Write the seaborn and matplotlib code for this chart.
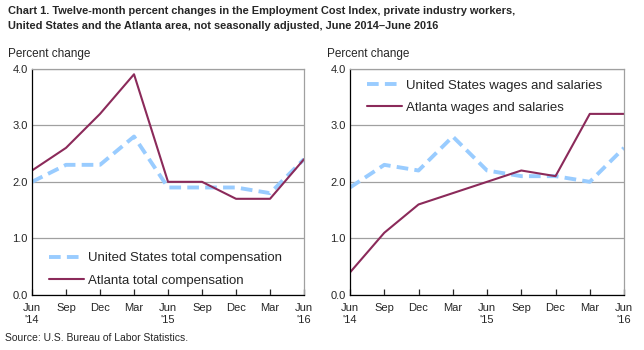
import pandas as pd
import matplotlib.pyplot as plt
import seaborn as sns

# Quarterly months, June 2014 - June 2016
months = ["Jun\n'14", "Sep", "Dec", "Mar", "Jun\n'15", "Sep", "Dec", "Mar", "Jun\n'16"]

us_total = [2.0, 2.3, 2.3, 2.8, 1.9, 1.9, 1.9, 1.8, 2.4]
atl_total = [2.2, 2.6, 3.2, 3.9, 2.0, 2.0, 1.7, 1.7, 2.4]
us_wages = [1.9, 2.3, 2.2, 2.8, 2.2, 2.1, 2.1, 2.0, 2.6]
atl_wages = [0.4, 1.1, 1.6, 1.8, 2.0, 2.2, 2.1, 3.2, 3.2]

sns.set_style("white")
plt.rcParams["font.family"] = ["Liberation Sans", "DejaVu Sans"]

fig = plt.figure(figsize=(6.44, 3.5), dpi=100)
ax1 = fig.add_axes([0.0497, 0.157, 0.4224, 0.647])
ax2 = fig.add_axes([0.5435, 0.157, 0.4255, 0.647])

blue = "#99ccff"
maroon = "#8b2a5a"

panels = [
    (ax1, us_total, atl_total, "United States total compensation", "Atlanta total compensation", "lower left"),
    (ax2, us_wages, atl_wages, "United States wages and salaries", "Atlanta wages and salaries", "upper left"),
]

for ax, us, atl, us_lab, atl_lab, loc in panels:
    df = pd.DataFrame({"pos": range(len(months)), "us": us, "atl": atl})
    sns.lineplot(data=df, x="pos", y="us", ax=ax, color=blue, linewidth=2.8,
                 linestyle=(0, (3, 1.6)), label=us_lab)
    sns.lineplot(data=df, x="pos", y="atl", ax=ax, color=maroon, linewidth=1.5,
                 label=atl_lab)
    ax.set_xlim(0, len(months) - 1)
    ax.set_ylim(0, 4.0)
    ax.set_yticks([0, 1, 2, 3, 4])
    ax.set_yticklabels(["0.0", "1.0", "2.0", "3.0", "4.0"], fontsize=8)
    ax.set_xticks(range(len(months)))
    ax.set_xticklabels(months, fontsize=8, linespacing=1.2)
    ax.set_xlabel("")
    ax.set_ylabel("")
    ax.grid(axis="y", color="#a0a0a0", linewidth=0.9)
    ax.set_axisbelow(True)
    for s in ["top", "right"]:
        ax.spines[s].set_color("#a0a0a0")
        ax.spines[s].set_linewidth(0.9)
    for s in ["left", "bottom"]:
        ax.spines[s].set_color("black")
        ax.spines[s].set_linewidth(0.9)
    ax.tick_params(axis="x", direction="in", length=4, width=0.9, pad=6, bottom=True)
    ax.tick_params(axis="y", length=0, pad=3)
    if loc == "lower left":
        ax.legend(loc="lower left", bbox_to_anchor=(0.02, -0.015), frameon=False,
                  fontsize=9.5, handlelength=2.6, handletextpad=0.3, labelspacing=0.75)
    else:
        ax.legend(loc="upper left", bbox_to_anchor=(0.02, 1.005), frameon=False,
                  fontsize=9.5, handlelength=2.6, handletextpad=0.3, labelspacing=0.75)

fig.text(0.012, 0.982, "Chart 1. Twelve-month percent changes in the Employment Cost Index, private industry workers,\n"
         "United States and the Atlanta area, not seasonally adjusted, June 2014\u2013June 2016",
         fontsize=7.9, fontweight="bold", va="top", ha="left", linespacing=1.55)
fig.text(0.012, 0.845, "Percent change", fontsize=8.5, va="center")
fig.text(0.507, 0.845, "Percent change", fontsize=8.5, va="center")
fig.text(0.008, 0.035, "Source: U.S. Bureau of Labor Statistics.", fontsize=7.5, va="center")

fig.savefig("out.png", dpi=100)
